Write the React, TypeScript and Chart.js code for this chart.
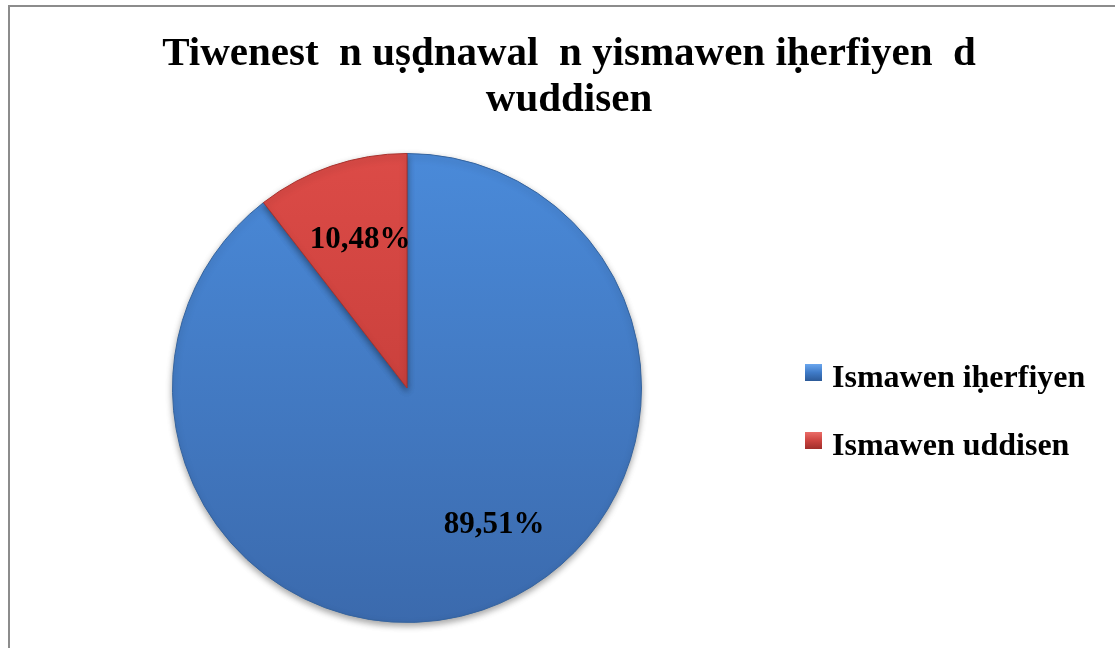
import React, { useEffect, useRef } from "react";
import { Chart, registerables } from "chart.js";

Chart.register(...registerables);

const categories = ["Ismawen iḥerfiyen", "Ismawen uddisen"];
const values = [89.51, 10.48];
const valueLabels = ["89,51%", "10,48%"];
const titleLines = ["Tiwenest  n uṣḍnawal  n yismawen iḥerfiyen  d", "wuddisen"];

const FONT = '"Liberation Serif", "Times New Roman", serif';

export default function App() {
  const ref = useRef<HTMLCanvasElement | null>(null);
  useEffect(() => {
    const canvas = ref.current!;
    const ctx = canvas.getContext("2d")!;
    const makeGrad = (top: string, bottom: string) => {
      const g = ctx.createLinearGradient(0, 153, 0, 623);
      g.addColorStop(0, top);
      g.addColorStop(1, bottom);
      return g;
    };
    const blue = makeGrad("#4a8ad9", "#3b6aad");
    const red = makeGrad("#dc4b47", "#b83632");

    const frame = {
      id: "frame",
      beforeDraw(chart: any) {
        const c = chart.ctx;
        c.save();
        c.fillStyle = "#ffffff";
        c.fillRect(0, 0, chart.width, chart.height);
        c.strokeStyle = "#8c8c8c";
        c.lineWidth = 2;
        c.strokeRect(9, 6, chart.width + 20, chart.height + 20);
        c.restore();
      },
      beforeDatasetsDraw(chart: any) {
        const c = chart.ctx;
        c.save();
        c.shadowColor = "rgba(0,0,0,0.35)";
        c.shadowBlur = 6;
        c.shadowOffsetY = 3;
      },
      afterDatasetsDraw(chart: any) {
        chart.ctx.restore();
      },
      afterDraw(chart: any) {
        const c = chart.ctx;
        c.save();
        // title
        c.fillStyle = "#000";
        c.textAlign = "center";
        c.textBaseline = "alphabetic";
        c.font = `bold 41px ${FONT}`;
        c.fillText(titleLines[0], 569, 65);
        c.fillText(titleLines[1], 569, 111);
        // value labels
        const meta = chart.getDatasetMeta(0);
        c.font = `bold 31px ${FONT}`;
        const labelPos = [
          [494, 533],
          [360, 248],
        ];
        meta.data.forEach((_arc: any, i: number) => {
          c.fillText(valueLabels[i], labelPos[i][0], labelPos[i][1]);
        });
        // legend
        c.textAlign = "left";
        c.font = `bold 32px ${FONT}`;
        const rows = [387, 455];
        categories.forEach((cat, i) => {
          const y = rows[i];
          const top = y - 23;
          const g = c.createLinearGradient(0, top, 0, top + 17);
          g.addColorStop(0, i === 0 ? "#6aa6ee" : "#ea6d68");
          g.addColorStop(0.5, i === 0 ? "#3f7bc8" : "#cc4440");
          g.addColorStop(1, i === 0 ? "#2c5a98" : "#a02e2a");
          c.fillStyle = g;
          c.fillRect(805, top, 17, 17);
          c.fillStyle = "#000";
          c.fillText(cat, 832, y);
        });
        c.restore();
      },
    };

    const chart = new Chart(canvas, {
      type: "pie",
      data: {
        labels: categories,
        datasets: [
          {
            data: values,
            backgroundColor: [blue, red],
            borderColor: ["#35649f", "#a8332f"],
            borderWidth: 1,
          },
        ],
      },
      options: {
        responsive: false,
        animation: false,
        layout: { padding: { left: 172, right: 473, top: 153, bottom: 25 } },
        plugins: {
          legend: { display: false },
          title: { display: false },
          tooltip: { enabled: false },
        },
      },
      plugins: [frame],
    });
    return () => chart.destroy();
  }, []);
  return (
    <div style={{ position: "fixed", left: 0, top: 0 }}>
      <canvas ref={ref} width={1115} height={648} style={{ display: "block" }} />
    </div>
  );
}
